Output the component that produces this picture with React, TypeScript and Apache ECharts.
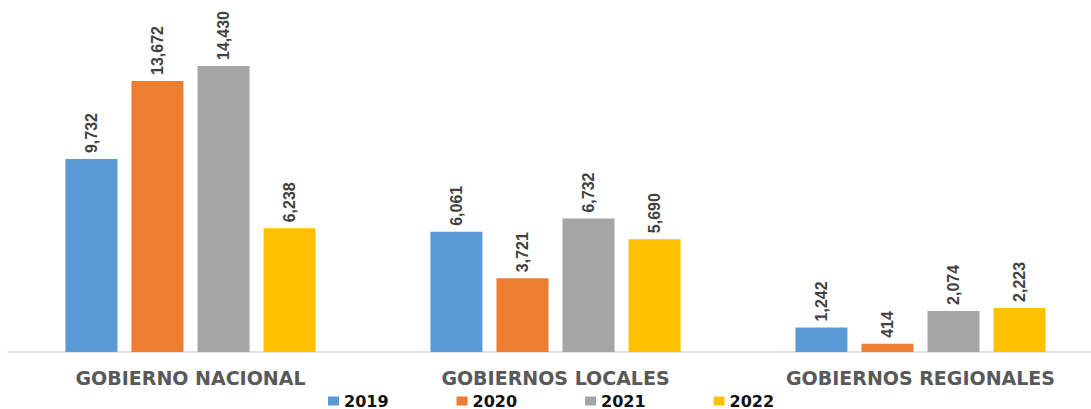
import React, { useEffect, useRef } from "react";
import * as echarts from "echarts";

const categories = ["GOBIERNO NACIONAL", "GOBIERNOS LOCALES", "GOBIERNOS REGIONALES"];
const years = ["2019", "2020", "2021", "2022"];
const values2019 = [9732, 6061, 1242];
const values2020 = [13672, 3721, 414];
const values2021 = [14430, 6732, 2074];
const values2022 = [6238, 5690, 2223];
const colors = ["#5B9BD5", "#ED7D31", "#A5A5A5", "#FFC000"];

const seriesValues = [values2019, values2020, values2021, values2022];

export default function App() {
  const ref = useRef<HTMLDivElement>(null);
  useEffect(() => {
    if (!ref.current) return;
    const chart = echarts.init(ref.current, null, { renderer: "svg" });
    chart.setOption({
      animation: false,
      backgroundColor: "#ffffff",
      grid: { left: 8, right: 0, top: 15, bottom: 57, containLabel: false },
      legend: {
        data: years,
        left: 323,
        top: 388,
        itemWidth: 11,
        itemHeight: 9,
        itemGap: 68,
        icon: "rect",
        textStyle: {
          fontFamily: "DejaVu Sans",
          fontWeight: "bold",
          fontSize: 16,
          color: "#111111",
        },
      },
      xAxis: {
        type: "category",
        data: categories,
        axisLine: { lineStyle: { color: "#d9d9d9", width: 1.5 } },
        axisTick: { show: false },
        axisLabel: {
          margin: 16,
          fontFamily: "DejaVu Sans",
          fontWeight: "bold",
          fontSize: 19,
          color: "#595959",
        },
      },
      yAxis: {
        type: "value",
        min: 0,
        max: 17000,
        show: false,
        splitLine: { show: false },
      },
      series: years.map((y, i) => ({
        name: y,
        type: "bar",
        data: seriesValues[i],
        barWidth: 52,
        barGap: "27%",
        itemStyle: { color: colors[i] },
        label: {
          show: true,
          position: "top",
          rotate: 90,
          align: "left",
          verticalAlign: "middle",
          distance: 6,
          fontFamily: "'Liberation Sans', Arial, sans-serif",
          fontWeight: "bold",
          fontSize: 16,
          color: "#404040",
          formatter: (p: any) => Number(p.value).toLocaleString("en-US"),
        },
      })),
    });
    return () => chart.dispose();
  }, []);
  return (
    <div
      style={{
        position: "fixed",
        left: 0,
        top: 0,
        width: 1091,
        height: 409,
        overflow: "hidden",
        background: "#ffffff",
      }}
    >
      <div ref={ref} style={{ width: 1103, height: 409 }} />
    </div>
  );
}
